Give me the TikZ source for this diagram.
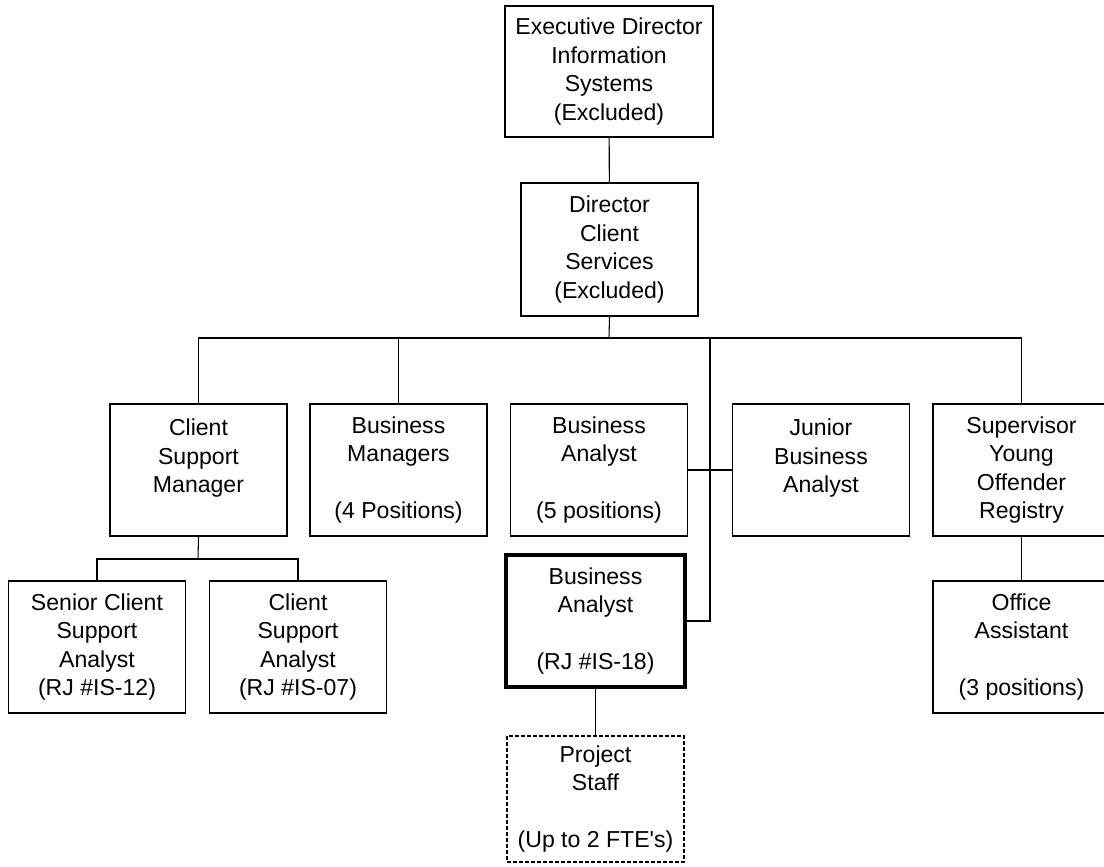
\documentclass[tikz,border=0pt]{standalone}
\usepackage{fontspec}
\setmainfont{Liberation Sans}
\begin{document}
\begin{tikzpicture}[x=0.75pt,y=-0.75pt,
  every node/.style={font=\fontsize{17.3pt}{21.4pt}\selectfont},
  post/.style={draw, line width=1pt, align=center, inner sep=0pt,
    minimum width=132.75pt, minimum height=99pt},
  keypost/.style={post, line width=3pt, minimum width=134.25pt, minimum height=99pt},
  temppost/.style={post, line width=0.8pt, dash pattern=on 3pt off 1.5pt,
    minimum height=94.5pt},
  link/.style={line width=0.8pt}]
\path[use as bounding box, clip] (0,0) rectangle (1104,867);

% executive level
\node[post, minimum width=156pt, minimum height=98.25pt] (exec) at (609,71.5)
  {Executive Director\\Information\\Systems\\(Excluded)};
\node[post, minimum height=99.75pt] (dir) at (609.5,249.5)
  {Director\\Client\\Services\\(Excluded)};

% reporting positions
\node[post] (csm) at (198.5,470) {Client\\Support\\Manager\\\mbox{}};
\node[post] (bm)  at (398.5,470) {Business\\Managers\\\mbox{}\\(4 Positions)};
\node[post] (ba)  at (599,470)   {Business\\Analyst\\\mbox{}\\(5 positions)};
\node[post] (jba) at (821,470)   {Junior\\Business\\Analyst\\\mbox{}};
\node[post] (sup) at (1021.5,470) {Supervisor\\Young\\Offender\\Registry};

\node[post] (scsa) at (97,647)  {Senior Client\\Support\\Analyst\\(RJ \#IS-12)};
\node[post] (csa)  at (298,647) {Client\\Support\\Analyst\\(RJ \#IS-07)};
\node[keypost] (ba18) at (595.5,621) {Business\\Analyst\\\mbox{}\\(RJ \#IS-18)};
\node[post] (oa) at (1021.5,647) {Office\\Assistant\\\mbox{}\\(3 positions)};
\node[temppost] (proj) at (595.5,799)
  {Project\\Staff\\\mbox{}\\(Up to 2 FTE\textquotesingle s)};

% junction points
\coordinate (bus) at (609,338);
\coordinate (tap) at (710,338);
\coordinate (sub) at (198,559);

% connectors
\draw[link] (exec) -- (dir);
\draw[link] (dir.south) -- (bus);
\draw[link] (csm.north) |- (bus) -| (sup.north);
\draw[link] (bm.north) -- (bm.north |- bus);
\draw[link] (tap) |- (ba18.east);
\draw[link] (ba.east) -- (jba.west);
\draw[link] (csm.south) -- (sub);
\draw[link] (scsa.north) |- (sub) -| (csa.north);
\draw[link] (ba18.south) -- (proj.north);
\draw[link] (sup.south) -- (oa.north);
\end{tikzpicture}
\end{document}
